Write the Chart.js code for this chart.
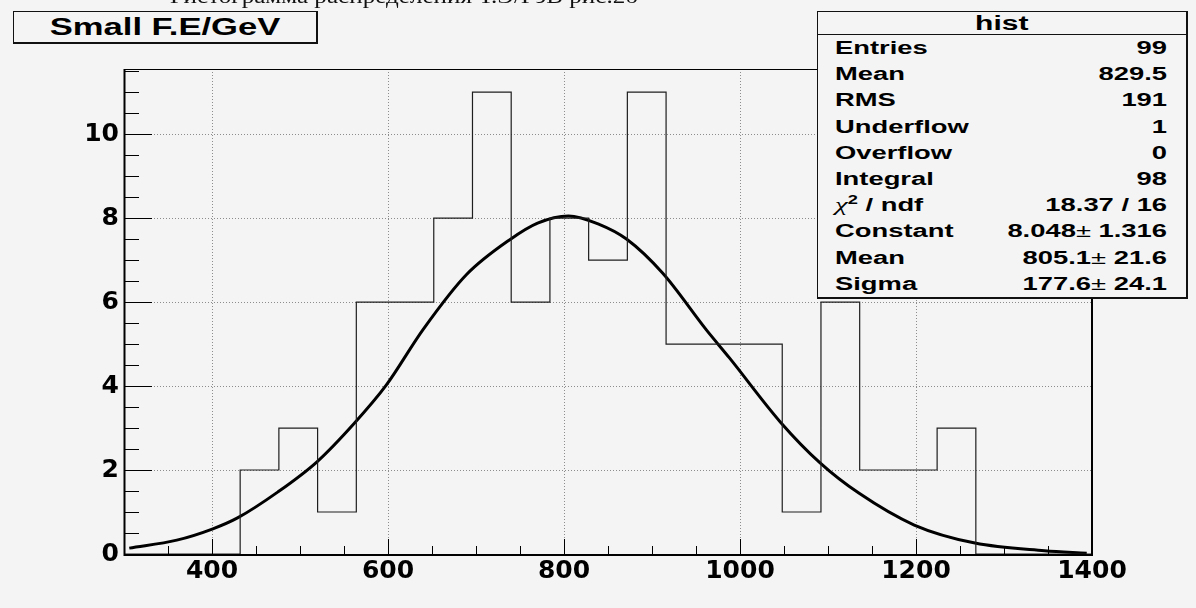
<!DOCTYPE html>
<html>
<head>
<meta charset="utf-8">
<script src="https://cdn.jsdelivr.net/npm/chart.js@4"></script>
<style>
  body { margin: 0; background: #f4f4f4; }
  #wrap { position: relative; width: 1196px; height: 608px; overflow: hidden; background: #f4f4f4; }
  #chart { position: absolute; left: 0; top: 0; }
  #caption { position: absolute; left: 170px; top: -15px; font: 22px/1 "Liberation Serif", serif; color: #111;
             white-space: nowrap; transform-origin: left center; }
  #title { position: absolute; left: 13px; top: 11px; width: 302px; height: 30px; background: #f4f4f4;
           border: 1px solid #111; border-right-width: 2px; border-bottom-width: 2px;
           text-align: center; font: bold 24px/30px "Liberation Sans", Arial, sans-serif; color: #000; }
  #title span { display: inline-block; transform: scaleX(1.44); }
  #stats { position: absolute; left: 817px; top: 11px; width: 368px; height: 285px; background: #f4f4f4;
           border: 1px solid #111; border-right-width: 2px; border-bottom-width: 2px;
           font: bold 18px "Liberation Sans", Arial, sans-serif; color: #000; }
  #stats .hdr { height: 22px; line-height: 22px; border-bottom: 1px solid #111; text-align: center; font-size: 20px; }
  #stats .hdr span { display: inline-block; transform: scaleX(1.5); }
  #stats .row { height: 26.2px; line-height: 26.2px; display: flex; justify-content: space-between; padding: 0 19px 0 17px; }
  #stats .k { display: inline-block; transform: scaleX(1.52); transform-origin: left center; white-space: nowrap; }
  #stats .v { display: inline-block; transform: scaleX(1.52); transform-origin: right center; white-space: nowrap; }
  #stats .pm { font-weight: normal; }
  #stats .chi { font: italic normal 19px/1 "Liberation Serif", serif; }
  #stats .sq { font-size: 12px; line-height: 0; position: relative; top: -7px; }
</style>
</head>
<body>
<div id="wrap">
  <canvas id="chart" width="1196" height="608"></canvas>
  <div id="caption">Гистограмма распределения  Т.Э/ГэВ рис.2б</div>
  <div id="title"><span>Small F.E/GeV</span></div>
  <div id="stats">
    <div class="hdr"><span>hist</span></div>
    <div class="row"><span class="k">Entries</span><span class="v">99</span></div>
    <div class="row"><span class="k">Mean</span><span class="v">829.5</span></div>
    <div class="row"><span class="k">RMS</span><span class="v">191</span></div>
    <div class="row"><span class="k">Underflow</span><span class="v">1</span></div>
    <div class="row"><span class="k">Overflow</span><span class="v">0</span></div>
    <div class="row"><span class="k">Integral</span><span class="v">98</span></div>
    <div class="row"><span class="k"><span class="chi">χ</span><span class="sq">2</span> / ndf</span><span class="v">18.37 / 16</span></div>
    <div class="row"><span class="k">Constant</span><span class="v">8.048<span class="pm">±</span> 1.316</span></div>
    <div class="row"><span class="k">Mean</span><span class="v">805.1<span class="pm">±</span> 21.6</span></div>
    <div class="row"><span class="k">Sigma</span><span class="v">177.6<span class="pm">±</span> 24.1</span></div>
  </div>
</div>
<script>
// histogram bins (Small F.E/GeV)
const binEdges = [300, 344, 388, 432, 476, 520, 564, 608, 652, 696, 740, 784, 828,
                  872, 916, 960, 1004, 1048, 1092, 1136, 1180, 1224, 1268, 1312, 1356, 1400];
const binCounts = [0, 0, 0, 2, 3, 1, 6, 6, 8, 11, 6, 8, 7, 11, 5, 5, 5, 1, 6, 2, 2, 3, 0, 0, 0];

// gaussian fit curve
const fitX = [306, 360, 401, 429, 475, 519, 562, 598, 640, 689, 738, 770, 805, 840, 871, 912, 962, 988, 1046, 1091, 1135, 1198, 1267, 1346, 1394];
const fitY = [0.14, 0.33, 0.6, 0.86, 1.48, 2.19, 3.12, 4.02, 5.35, 6.65, 7.48, 7.88, 8.05, 7.85, 7.5, 6.69, 5.33, 4.67, 3.14, 2.17, 1.45, 0.69, 0.26, 0.08, 0.02];

const xTicks = [400, 600, 800, 1000, 1200, 1400];
const yTicks = [0, 2, 4, 6, 8, 10];

const xMin = 300, xMax = 1400, yMin = 0, yMax = 11.55;

const histPoints = binEdges.map((e, i) => ({ x: e, y: i < binCounts.length ? binCounts[i] : 0 }));
const fitPoints = fitX.map((x, i) => ({ x: x, y: fitY[i] }));

const tickFont = { family: "DejaVu Sans", weight: "bold", size: 25 };

// ROOT style: ticks inside the frame, plus the frame itself
const rootAxes = {
    id: "rootAxes",
    afterDatasetsDraw(chart) {
        const { ctx, chartArea: a, scales: { x, y } } = chart;
        ctx.save();
        ctx.strokeStyle = "#000";
        ctx.lineWidth = 1;
        ctx.beginPath();
        for (let v = 350; v < xMax; v += 50) {
            const px = Math.round(x.getPixelForValue(v)) + 0.5;
            const len = v % 200 === 0 ? 15 : 8;
            ctx.moveTo(px, a.bottom);
            ctx.lineTo(px, a.bottom - len);
        }
        for (let v = 0.5; v < yMax; v += 0.5) {
            const py = Math.round(y.getPixelForValue(v)) + 0.5;
            const len = v % 2 === 0 ? 28 : 15;
            ctx.moveTo(a.left, py);
            ctx.lineTo(a.left + len, py);
        }
        ctx.stroke();

        ctx.lineWidth = 1;
        ctx.beginPath();
        ctx.moveTo(a.left, a.top + 0.5);
        ctx.lineTo(a.right, a.top + 0.5);
        ctx.stroke();
        ctx.lineWidth = 2;
        ctx.beginPath();
        ctx.moveTo(a.left + 0.5, a.top);
        ctx.lineTo(a.left + 0.5, a.bottom + 1);
        ctx.lineTo(a.right, a.bottom + 1);
        ctx.lineTo(a.right, a.top);
        ctx.stroke();
        ctx.restore();
    }
};

new Chart(document.getElementById("chart"), {
    type: "line",
    data: {
        datasets: [{
            label: "hist",
            data: histPoints,
            stepped: true,
            borderColor: "#1e1e1e",
            borderWidth: 1.2,
            pointRadius: 0,
            fill: false
        }, {
            label: "gaus",
            data: fitPoints,
            cubicInterpolationMode: "monotone",
            borderColor: "#000",
            borderWidth: 3,
            pointRadius: 0,
            fill: false
        }]
    },
    options: {
        responsive: false,
        animation: false,
        devicePixelRatio: 1,
        layout: { padding: { left: 0, top: 69, right: 104, bottom: 0 } },
        plugins: { legend: { display: false }, tooltip: { enabled: false } },
        scales: {
            x: {
                type: "linear",
                min: xMin,
                max: xMax,
                afterBuildTicks: s => { s.ticks = xTicks.map(v => ({ value: v })); },
                afterFit: s => { s.height = 54; },
                grid: { color: "#8c8c8c", lineWidth: 1, drawTicks: false },
                border: { display: false, dash: [1, 2] },
                ticks: { font: tickFont, color: "#000", padding: 2, maxRotation: 0, callback: v => String(v) }
            },
            y: {
                type: "linear",
                min: yMin,
                max: yMax,
                afterBuildTicks: s => { s.ticks = yTicks.map(v => ({ value: v })); },
                afterFit: s => { s.width = 124; },
                grid: { color: "#8c8c8c", lineWidth: 1, drawTicks: false },
                border: { display: false, dash: [1, 2] },
                ticks: { font: tickFont, color: "#000", padding: 5, callback: v => String(v) }
            }
        }
    },
    plugins: [rootAxes]
});

// squeeze the caption to the width it has in the picture
const cap = document.getElementById("caption");
cap.style.transform = `scaleX(${468 / cap.getBoundingClientRect().width})`;
</script>
</body>
</html>
